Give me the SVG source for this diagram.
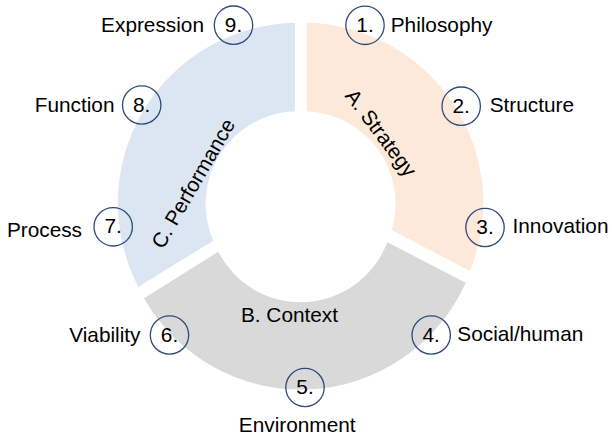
<svg xmlns="http://www.w3.org/2000/svg" width="612" height="438" viewBox="0 0 612 438">
<style>
  text { font-family: "Liberation Sans", Arial, Helvetica, sans-serif; font-size: 20.8px; fill: #000; }
  .num { text-anchor: middle; }
  .end { text-anchor: end; }
  .mid { text-anchor: middle; }
  .ring { fill: none; stroke: #2E4A7A; stroke-width: 1.3; }
</style>
<rect width="612" height="438" fill="#fff"/>
<g id="segment-a-strategy">
  <path d="M306.7,22.8 A180.5,180.5 0 0 1 470,271 L391.7,230 A92.5,92.5 0 0 0 306.7,111.3 Z" fill="#FDE9D9"/>
  <text class="mid" transform="translate(375.3,137.2) rotate(53)">A. Strategy</text>
</g>
<g id="segment-b-context">
  <path d="M465.7,282.7 A180.5,180.5 0 0 1 144,298.3 L218.3,251.7 A92.5,92.5 0 0 0 387.3,242.3 Z" fill="#D9D9D9"/>
  <text class="mid" x="289.5" y="321.7">B. Context</text>
</g>
<g id="segment-c-performance">
  <path d="M295,22.8 L295,111.3 A92.5,92.5 0 0 0 213.3,240.7 L138.3,286.7 A180.5,180.5 0 0 1 295,22.8 Z" fill="#DCE6F2"/>
  <text class="mid" transform="translate(199.3,187) rotate(-60)">C. Performance</text>
</g>
<g id="item-1">
  <circle class="ring" cx="365" cy="25.3" r="19.2"/>
  <text class="num" x="365" y="31.8">1.</text>
  <text x="390.7" y="31.7">Philosophy</text>
</g>
<g id="item-2">
  <circle class="ring" cx="461.2" cy="106.2" r="19.2"/>
  <text class="num" x="461.2" y="112.7">2.</text>
  <text x="489.7" y="112.3">Structure</text>
</g>
<g id="item-3">
  <circle class="ring" cx="485" cy="227.5" r="19.2"/>
  <text class="num" x="485" y="234">3.</text>
  <text x="512.5" y="233.3">Innovation</text>
</g>
<g id="item-4">
  <circle class="ring" cx="431.2" cy="335" r="19.2"/>
  <text class="num" x="431.2" y="341.5">4.</text>
  <text x="457.3" y="340.5">Social/human</text>
</g>
<g id="item-5">
  <circle class="ring" cx="305" cy="387.5" r="19.2"/>
  <text class="num" x="305" y="394">5.</text>
  <text class="mid" x="297.2" y="432.3">Environment</text>
</g>
<g id="item-6">
  <circle class="ring" cx="169.5" cy="335" r="19.2"/>
  <text class="num" x="169.5" y="341.5">6.</text>
  <text class="end" x="140.5" y="341.7">Viability</text>
</g>
<g id="item-7">
  <circle class="ring" cx="113.2" cy="226.8" r="19.2"/>
  <text class="num" x="113.2" y="233.3">7.</text>
  <text class="end" x="82" y="236.7">Process</text>
</g>
<g id="item-8">
  <circle class="ring" cx="141.7" cy="105" r="19.2"/>
  <text class="num" x="141.7" y="111.5">8.</text>
  <text class="end" x="114.5" y="112.3">Function</text>
</g>
<g id="item-9">
  <circle class="ring" cx="233.5" cy="25.2" r="19.2"/>
  <text class="num" x="233.5" y="31.7">9.</text>
  <text class="end" x="204" y="31.7">Expression</text>
</g>
<g id="connectors"/>
</svg>
